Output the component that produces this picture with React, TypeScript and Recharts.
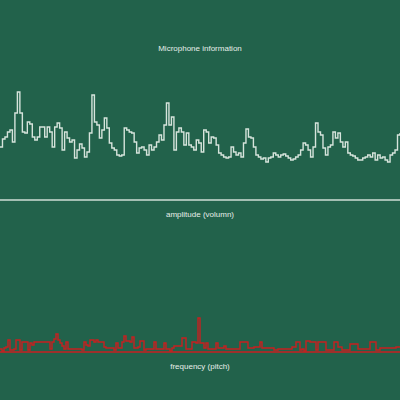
import React from "react";
import { LineChart, Line, XAxis, YAxis, ReferenceLine } from "recharts";

const title = "Microphone information";
const amplitudeLabel = "amplitude (volumn)";
const frequencyLabel = "frequency (pitch)";

const amplitude: number[] = [
  53, 61, 63, 68, 70, 58, 87, 108, 87, 68, 67, 78, 76, 63, 60, 63, 73, 73, 63, 73,
  68, 53, 73, 77, 72, 50, 68, 62, 58, 60, 42, 50, 56, 52, 43, 48, 67, 105, 78, 75,
  62, 70, 82, 72, 57, 52, 50, 45, 44, 45, 72, 70,
  68, 67, 58, 47, 52, 53, 50, 45, 55, 50, 53, 58, 65, 60, 75, 97, 75, 83, 50, 68,
  72, 68, 55, 67, 55, 53, 50, 60, 57, 48, 70, 68, 57, 63, 62, 55, 47, 45, 43, 42,
  43, 53, 48, 45, 47, 43, 57, 71, 63, 62, 53, 45, 43, 41, 42, 38, 42,
  43, 47, 45, 43, 45, 46, 44, 42, 40, 41, 43, 45, 50, 57, 55, 50, 43, 53, 77, 68,
  65, 52, 45, 53, 55, 68, 62, 67, 58, 53, 58, 47, 45, 44, 42, 40, 40, 42, 43, 45,
  43, 47, 40, 45, 42, 43, 40, 38, 45, 47, 50, 65, 67,
];

const frequency: number[] = [
  3, 1, 4, 5, 12, 2, 2, 3, 12, 12,
  2, 10, 10, 10, 2, 9, 7, 10, 10, 10,
  10, 10, 10, 10, 10, 3, 10, 13, 18, 12,
  9, 6, 3, 10, 3, 3, 3, 3, 3, 3,
  3, 2, 10, 7, 6, 12, 12, 10, 12, 10,
  10, 10, 5, 4, 4, 4, 4, 2, 9, 4,
  4, 10, 16, 11, 11, 10, 15, 4, 4, 5,
  11, 11, 2, 3, 3, 3, 3, 10, 3, 3,
  3, 3, 9, 3, 3, 1, 4, 6, 6, 6,
  6, 14, 14, 3, 3, 3, 10, 10, 9, 34,
  9, 9, 4, 9, 3, 3, 3, 3, 9, 4,
  4, 4, 6, 3, 3, 3, 3, 3, 3, 3,
  10, 10, 10, 10, 4, 4, 4, 5, 5, 5,
  10, 4, 4, 4, 4, 4, 4, 2, 2, 3,
  3, 3, 3, 3, 3, 3, 5, 5, 10, 10,
  2, 3, 1, 11, 11, 10, 10, 10, 2, 10,
  10, 10, 10, 2, 2, 2, 2, 10, 10, 5,
  5, 2, 2, 2, 2, 8, 8, 8, 8, 3,
  3, 3, 3, 3, 3, 10, 10, 10, 2, 2,
  4, 4, 4, 4, 4, 4, 4, 4, 5, 5,
  5,
];

const ampData = amplitude.map((v, i) => ({ i, v }));
const freqData = frequency.map((v, i) => ({ i, v }));

const BG = "#22624b";
const TEXT = "#e6eee9";

const textStyle = (top: number): React.CSSProperties => ({
  position: "absolute",
  left: 0,
  width: 400,
  top,
  textAlign: "center",
  fontFamily: "'Liberation Sans', Arial, sans-serif",
  fontSize: 8,
  lineHeight: "10px",
  color: TEXT,
});

export default function App() {
  return (
    <div
      style={{
        position: "absolute",
        left: 0,
        top: 0,
        width: 400,
        height: 400,
        background: BG,
        overflow: "hidden",
      }}
    >
      <div style={textStyle(44)}>{title}</div>
      <div style={{ position: "absolute", left: 0, top: 0 }}>
        <LineChart width={400} height={205} data={ampData} margin={{ top: 60, right: 0, bottom: 5, left: 0 }}>
          <XAxis dataKey="i" hide />
          <YAxis hide domain={[0, 140]} />
          <ReferenceLine y={0} stroke="#cfdfd6" strokeWidth={1.6} />
          <Line
            type="stepAfter"
            dataKey="v"
            stroke="#d6e4dc"
            strokeWidth={1.4}
            dot={false}
            isAnimationActive={false}
          />
        </LineChart>
      </div>
      <div style={textStyle(210)}>{amplitudeLabel}</div>
      <div style={{ position: "absolute", left: 0, top: 0 }}>
        <LineChart width={400} height={357} data={freqData} margin={{ top: 222, right: 0, bottom: 5, left: 0 }}>
          <XAxis dataKey="i" hide />
          <YAxis hide domain={[0, 130]} />
          <ReferenceLine y={0} stroke="#c82020" strokeWidth={1.6} />
          <Line
            type="stepAfter"
            dataKey="v"
            stroke="#c82020"
            strokeWidth={1.4}
            dot={false}
            isAnimationActive={false}
          />
        </LineChart>
      </div>
      <div style={textStyle(362)}>{frequencyLabel}</div>
    </div>
  );
}
